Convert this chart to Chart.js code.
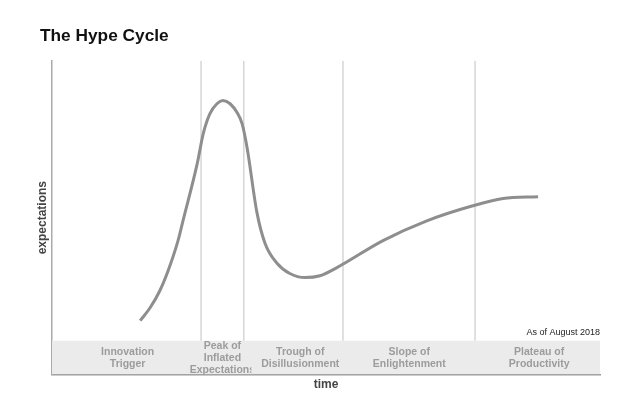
<!DOCTYPE html>
<html>
<head>
<meta charset="utf-8">
<script src="https://cdn.jsdelivr.net/npm/chart.js@4"></script>
<style>
  html, body { margin: 0; padding: 0; background: #fff; }
  #wrap { width: 640px; height: 398px; position: relative; }
</style>
</head>
<body>
<div id="wrap"><canvas id="hypeChart"></canvas></div>
<script>
// curve (time 0-100, expectations 0-100)
const curveTime = [16.1, 17.9, 19.7, 21.0, 23.0, 23.9, 26.5, 27.6, 28.8, 30.1, 31.2, 32.5, 33.8, 34.7, 35.6, 37.4, 38.9, 41.1, 43.4, 46.2, 48.9, 52.0, 60.4, 68.4, 76.8, 82.3, 88.7];
const curveExpect = [17.2, 21.3, 26.8, 32.2, 42.7, 49.0, 67.2, 76.8, 83.1, 86.3, 87.3, 86.3, 83.4, 79.9, 72.3, 51.6, 41.7, 35.4, 32.2, 30.9, 31.5, 34.1, 42.7, 49.0, 53.8, 56.1, 56.7];

const phaseBounds = [27.2, 35.0, 53.1, 77.2];
const bandTop = 10.8;
const phaseNames = [
    ['Innovation', 'Trigger'],
    ['Peak of', 'Inflated', 'Expectations'],
    ['Trough of', 'Disillusionment'],
    ['Slope of', 'Enlightenment'],
    ['Plateau of', 'Productivity']
];
const phaseCenters = [13.8, 31.1, 45.3, 65.2, 88.9];
const noteText = 'As of August 2018';

const ctx = document.getElementById('hypeChart').getContext('2d');

const datasets = [];

datasets.push({
    label: 'hype',
    data: curveTime.map((t, i) => ({ x: t, y: curveExpect[i] })),
    borderColor: '#8e8e8e',
    borderWidth: 3,
    pointRadius: 0,
    cubicInterpolationMode: 'monotone',
    fill: false,
    order: 0
});

phaseBounds.forEach(b => {
    datasets.push({
        label: 'bound',
        data: [{ x: b, y: bandTop }, { x: b, y: 100 }],
        borderColor: '#d6d6d6',
        borderWidth: 1.5,
        pointRadius: 0,
        tension: 0,
        fill: false,
        order: 1
    });
});

datasets.push({
    label: 'band',
    data: [{ x: 0, y: bandTop }, { x: 100, y: bandTop }],
    borderWidth: 0,
    borderColor: 'rgba(0,0,0,0)',
    backgroundColor: '#ebebeb',
    pointRadius: 0,
    tension: 0,
    fill: 'origin',
    order: 2
});

// phase names in the band + the date note
const labelPlugin = {
    id: 'phaseLabels',
    afterDatasetsDraw(chart) {
        const x = chart.scales.x;
        const y = chart.scales.y;
        const c = chart.ctx;
        const bandMid = (y.getPixelForValue(bandTop) + y.getPixelForValue(0)) / 2;
        c.save();
        c.font = 'bold 10.5px "Liberation Sans", Arial, sans-serif';
        c.fillStyle = '#9c9c9c';
        c.textAlign = 'center';
        c.textBaseline = 'middle';
        phaseNames.forEach((lines, i) => {
            const cx = x.getPixelForValue(phaseCenters[i]);
            const step = 12;
            const startY = bandMid - (lines.length - 1) * step / 2;
            c.save();
            if (i === 1) {
                // the long word is cut at the right in the original
                c.beginPath();
                c.rect(cx - 40, startY - 10, 69, 60);
                c.clip();
            }
            lines.forEach((ln, j) => c.fillText(ln, cx, startY + j * step));
            c.restore();
        });
        c.font = '9px "Liberation Sans", Arial, sans-serif';
        c.fillStyle = '#222';
        c.textAlign = 'right';
        c.fillText(noteText, x.getPixelForValue(100), y.getPixelForValue(bandTop) - 8);
        c.restore();
    }
};

const hypeChart = new Chart(ctx, {
    type: 'line',
    data: { datasets: datasets },
    plugins: [labelPlugin],
    options: {
        responsive: true,
        maintainAspectRatio: false,
        animation: false,
        events: [],
        layout: {
            padding: { left: 40, right: 40, top: 0, bottom: 6 }
        },
        plugins: {
            legend: { display: false },
            tooltip: { enabled: false },
            title: {
                display: true,
                text: 'The Hype Cycle',
                align: 'start',
                color: '#111',
                font: { family: '"Liberation Sans", Arial, sans-serif', size: 17.3, weight: 'bold' },
                padding: { top: 26, bottom: 14 }
            }
        },
        scales: {
            x: {
                type: 'linear',
                min: 0,
                max: 100,
                grid: { display: false, drawTicks: false },
                ticks: { display: false },
                border: { display: true, color: '#9a9a9a', width: 1.5 },
                title: {
                    display: true,
                    text: 'time',
                    color: '#444',
                    font: { family: '"Liberation Sans", Arial, sans-serif', size: 12, weight: 'bold' },
                    padding: { top: 3, bottom: 0 }
                }
            },
            y: {
                min: 0,
                max: 100,
                grid: { display: false, drawTicks: false },
                ticks: { display: false },
                border: { display: true, color: '#aaaaaa', width: 1.5 },
                title: {
                    display: true,
                    text: 'expectations',
                    color: '#444',
                    font: { family: '"Liberation Sans", Arial, sans-serif', size: 12, weight: 'bold', lineHeight: 1 },
                    padding: { top: -3, bottom: 3 }
                }
            }
        }
    }
});
</script>
</body>
</html>
